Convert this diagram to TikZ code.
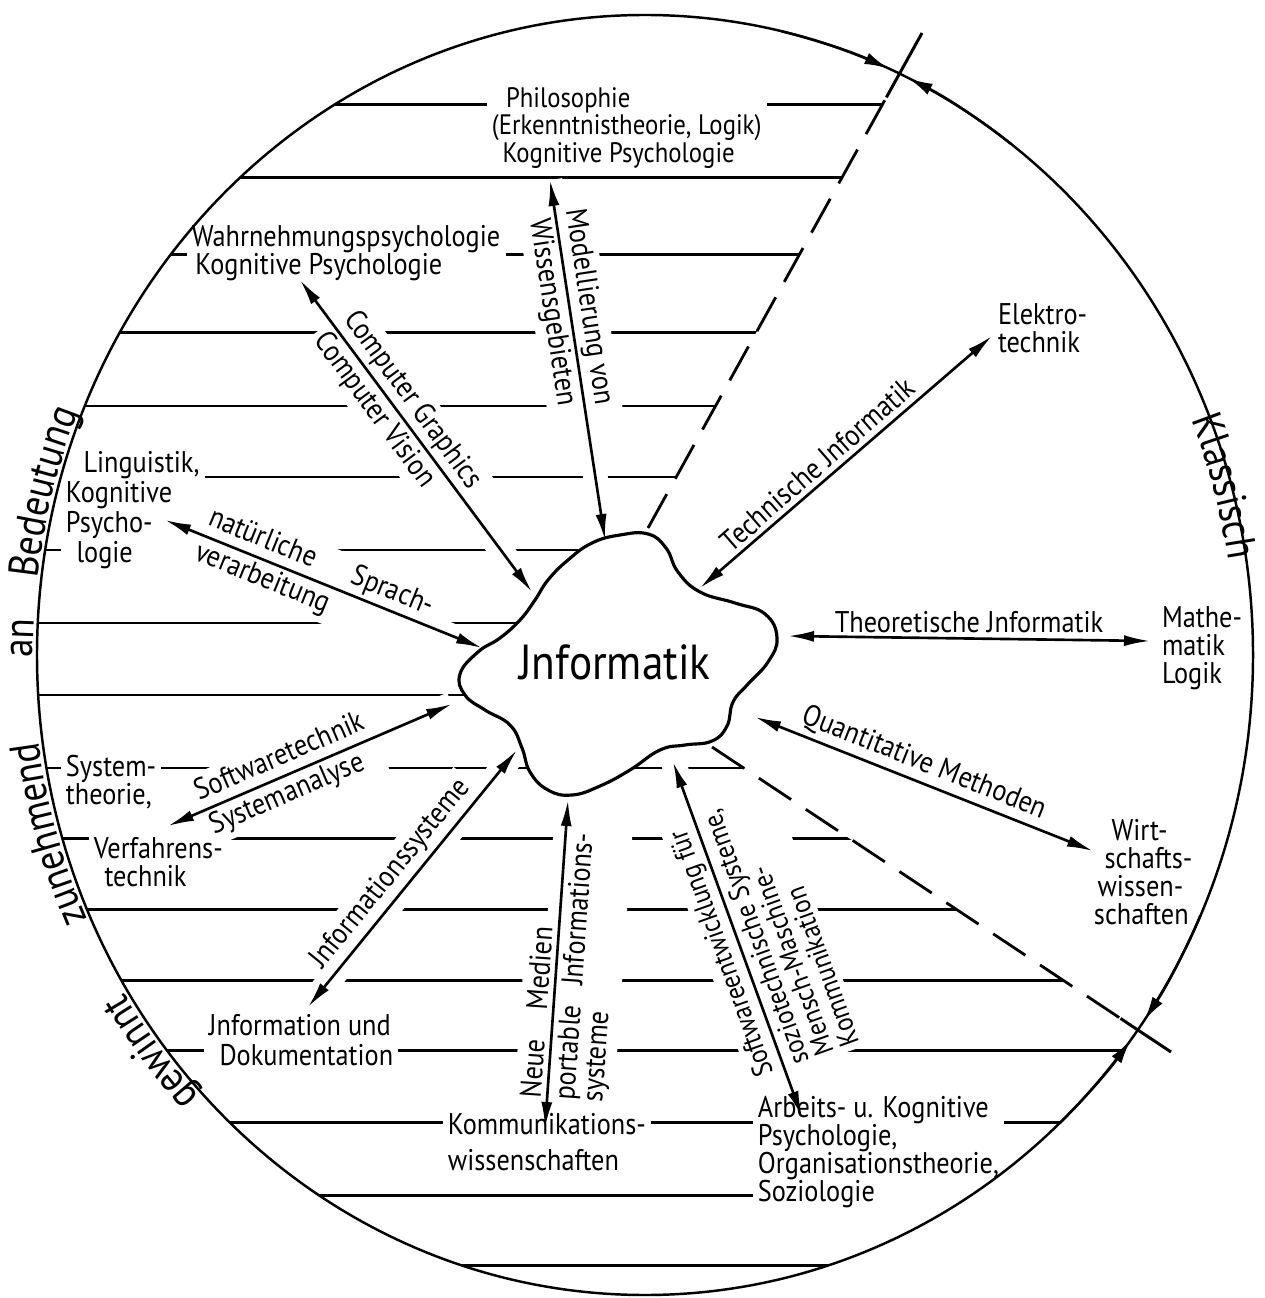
\documentclass[tikz,border=0pt]{standalone}
\usepackage{fontspec}
\setmainfont{PT Sans}[FakeStretch=0.88]
\usepackage{tikz}
\usetikzlibrary{positioning,calc,arrows.meta,decorations.text}
\definecolor{ink}{RGB}{0,0,0}
\newcommand{\sidefont}{\fontsize{12}{12}\selectfont}
\tikzset{
  hatch/.style={ink, line width=0.85pt},
  gap/.style={white, line width=7pt},
  rim/.style={ink, line width=0.7pt},
  border/.style={ink, line width=0.8pt, dash pattern=on 11pt off 5pt},
  biarrow/.style={ink, line width=0.75pt,
    {Latex[length=2.6mm,width=1.1mm]}-{Latex[length=2.6mm,width=1.1mm]}},
  endtip/.style={ink, line width=0.7pt, -{Latex[length=2.4mm,width=1.2mm]}},
  topic/.style={align=left, fill=white, inner sep=1.5pt, text=ink,
    font=\fontsize{8.5}{8}\selectfont},
  lbl/.style={fill=white, inner sep=1.5pt, text=ink,
    font=\fontsize{8.5}{10.5}\selectfont},
  sidetext/.style={decorate, decoration={text along path, text align=center,
    text={|\sidefont|#1}}}
}

\begin{document}
\begin{tikzpicture}[x=0.01cm, y=-0.01cm]
  \useasboundingbox (0,0) rectangle (1264,1298);
  \coordinate (cen) at (645,655);
  % ends of the connectors
  \coordinate (mod-o) at (550,180);   \coordinate (mod-i) at (605,540);
  \coordinate (cg-o) at (300,280);    \coordinate (cg-i) at (532,592);
  \coordinate (nlp-o) at (165,520);   \coordinate (nlp-i) at (482,648);
  \coordinate (tech-o) at (992,336);  \coordinate (tech-i) at (700,588);
  \coordinate (theo-o) at (1150,641); \coordinate (theo-i) at (788,636);
  \coordinate (quant-o) at (1093,851);\coordinate (quant-i) at (755,717);
  \coordinate (swt-o) at (168,826);   \coordinate (swt-i) at (452,704);
  \coordinate (is-o) at (308,1007);   \coordinate (is-i) at (517,750);
  \coordinate (nm-o) at (545,1128);   \coordinate (nm-i) at (568,800);
  \coordinate (swe-o) at (802,1117);  \coordinate (swe-i) at (673,762);
  % borders of the sector
  \coordinate (top-a) at (648,528);   \coordinate (top-b) at (922,33);
  \coordinate (top-x) at ($(top-a)!0.87!(top-b)$);
  \coordinate (bot-a) at (712,747);   \coordinate (bot-b) at (1171,1052);
  \coordinate (bot-x) at ($(bot-a)!0.89!(bot-b)$);

  % hatching
  \begin{scope}
    \clip (cen) ellipse [x radius=608, y radius=640];
    \clip (top-a) -- (1001,-110) -- (-100,-110) -- (-100,1400) -- (1692,1400) -- (bot-a) -- cycle;
    \foreach \yy in {105,178,255,333,406,477,550,623,695,768,838,909,980,1050,1122,1195,1265}
      \draw[hatch] (-50,\yy) -- (1320,\yy);
    \draw[hatch] (222,815) -- (225,838);
    \foreach \c in {mod,cg,nlp,swt,is,nm,swe}
      \draw[gap] (\c-o) -- (\c-i);
  \end{scope}

  % Informatik
  \draw[ink, line width=0.9pt, fill=white] plot[smooth cycle, tension=0.75] coordinates {
    (478,652) (500,638) (520,620) (535,600) (548,580) (568,560) (592,543) (620,535)
    (648,534) (666,548) (678,572) (700,592) (735,603) (765,614) (777,638) (768,662)
    (748,684) (733,702) (727,726) (712,741) (685,745) (660,750) (630,770) (600,786)
    (572,795) (548,790) (530,772) (522,748) (510,725) (485,710) (465,695) (460,674)};
  \node[text=ink, font=\fontsize{14}{14}\selectfont] (inf) at (615,662) {Jnformatik};

  % fields
  \node[topic, anchor=west, font=\fontsize{8}{7.8}\selectfont] (philo) at (486,128)
    {\hspace*{4pt}Philosophie\\(Erkenntnistheorie, Logik)\\\hspace*{3pt}Kognitive Psychologie};
  \node[topic, anchor=west] (wahr) at (186,253) {Wahrnehmungspsychologie\\\hspace*{1pt}Kognitive Psychologie};
  \node[topic, anchor=west, font=\fontsize{8.5}{8.5}\selectfont] (lingu) at (60,510)
    {\hspace*{5pt}Linguistik,\\Kognitive\\Psycho-\\\hspace*{3pt}logie};
  \node[topic, anchor=west] (elektro) at (992,328) {Elektro-\\technik};
  \node[topic, anchor=west] (mathe) at (1156,648) {Mathe-\\matik\\Logik};
  \node[topic, anchor=west] (wirt) at (1088,872) {\hspace*{5pt}Wirt-\\\hspace*{3pt}schafts-\\\hspace*{1pt}wissen-\\schaften};
  \node[topic, anchor=west, font=\fontsize{8.5}{10}\selectfont] (kommw) at (442,1142) {Kommunikations-\\wissenschaften};
  \node[topic, anchor=west] (arbeit) at (752,1152) {Arbeits- u. Kognitive\\Psychologie,\\Organisationstheorie,\\Soziologie};
  \node[topic, anchor=west, font=\fontsize{8.5}{8.5}\selectfont] (infodok) at (203,1040) {Jnformation und\\\hspace*{3pt}Dokumentation};
  \node[topic, anchor=west] (systh) at (60,782) {System-\\theorie,};
  \node[topic, anchor=west] (verf) at (88,862) {Verfahrens-\\\hspace*{3pt}technik};

  % labels of the connectors
  \node[lbl, rotate=-81.4, align=center] (modlbl) at ($(mod-o)!0.36!(mod-i)$) {Modellierung von\\Wissensgebieten};
  \node[lbl, rotate=-53.6, align=left] (cglbl) at ($(cg-o)!0.42!(cg-i)$) {Computer Graphics\\Computer Vision};
  \node[lbl, rotate=-22.1, align=left] (nlplbl) at ($(nlp-o)!0.47!(nlp-i)$) {natürliche\hspace{4mm}Sprach-\\verarbeitung};
  \node[lbl, rotate=41.1, anchor=south] (techlbl) at ($(tech-o)!0.56!(tech-i)$) {Technische Jnformatik};
  \node[lbl, anchor=south] (theolbl) at ($(theo-i)!0.5!(theo-o)$) {Theoretische Jnformatik};
  \node[lbl, rotate=-21.7, anchor=south] (quantlbl) at ($(quant-i)!0.48!(quant-o)$) {Quantitative Methoden};
  \node[lbl, rotate=23.25, align=left] (swtlbl) at ($(swt-o)!0.42!(swt-i)$) {Softwaretechnik\\Systemanalyse};
  \node[lbl, rotate=50.9, anchor=south] (islbl) at ($(is-o)!0.47!(is-i)$) {Jnformationssysteme};
  \node[lbl, rotate=86, anchor=south west] (nmlbl) at ($(nm-o)!0.07!(nm-i)$) {Neue\hspace{3mm}Medien};
  \node[lbl, rotate=86, anchor=north west, align=left, font=\fontsize{8.5}{8}\selectfont] (nmlblb)
    at ($(nm-o)!0.07!(nm-i)$) {portable\hspace{2mm}Jnformations-\\systeme};
  \node[lbl, rotate=109.7, anchor=south west, font=\fontsize{8}{7.6}\selectfont] (swelbl)
    at ($(swe-o)!0.12!(swe-i)$) {Softwareentwicklung für};
  \node[lbl, rotate=109.7, anchor=north west, align=left, font=\fontsize{8}{7.6}\selectfont] (swelblb)
    at ($(swe-o)!0.12!(swe-i)$) {soziotechnische Systeme,\\Mensch-Maschine-\\Kommunikation};

  % outer circle and sector borders
  \draw[rim] (cen) ellipse [x radius=608, y radius=640];
  \draw[border] (top-a) -- (top-x);
  \draw[ink, line width=0.85pt] (top-x) -- (top-b);
  \draw[border] (bot-a) -- (bot-x);
  \draw[ink, line width=0.85pt] (bot-x) -- (bot-b);
  \draw[endtip] ($(cen)+(-77:608 and 640)$) arc[start angle=-77, end angle=-66.4, x radius=608, y radius=640];
  \draw[endtip] ($(cen)+(-53:608 and 640)$) arc[start angle=-53, end angle=-64.3, x radius=608, y radius=640];
  \draw[endtip] ($(cen)+(24:608 and 640)$) arc[start angle=24, end angle=34.8, x radius=608, y radius=640];
  \draw[endtip] ($(cen)+(47:608 and 640)$) arc[start angle=47, end angle=37, x radius=608, y radius=640];

  % connectors
  \draw[biarrow] (mod-o) -- (mod-i);
  \draw[biarrow] (cg-o) -- (cg-i);
  \draw[biarrow] (nlp-o) -- (nlp-i);
  \draw[biarrow] (tech-o) -- (tech-i);
  \draw[biarrow] (theo-o) -- (theo-i);
  \draw[biarrow] (quant-o) -- (quant-i);
  \draw[biarrow] (swt-o) -- (swt-i);
  \draw[biarrow] (is-o) -- (is-i);
  \draw[biarrow] (nm-o) -- (nm-i);
  \draw[biarrow] (swe-o) -- (swe-i);

  % texts along the circle
  \path[sidetext=gewinnt] ($(cen)+(130:612 and 644)$) arc[start angle=130, end angle=155, x radius=612, y radius=644];
  \path[sidetext=zunehmend] ($(cen)+(152:612 and 644)$) arc[start angle=152, end angle=176, x radius=612, y radius=644];
  \path[sidetext=an] ($(cen)+(176:612 and 644)$) arc[start angle=176, end angle=187, x radius=612, y radius=644];
  \path[sidetext=Bedeutung] ($(cen)+(184:612 and 644)$) arc[start angle=184, end angle=205, x radius=612, y radius=644];
  \path[sidetext=Klassisch] ($(cen)+(-27:590 and 622)$) arc[start angle=-27, end angle=-4, x radius=590, y radius=622];
\end{tikzpicture}
\end{document}
